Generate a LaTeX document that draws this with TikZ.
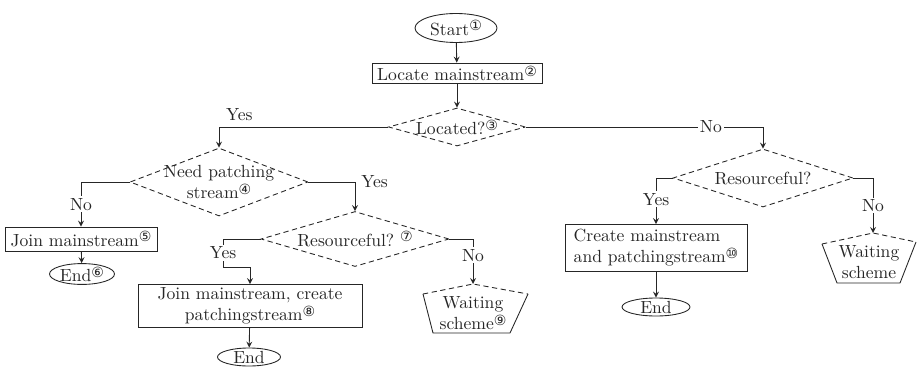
\documentclass[tikz,border=0pt]{standalone}
\usepackage{fontspec}
\newfontfamily\circfont{DejaVu Sans}
\usetikzlibrary{shapes.geometric, arrows}
\newcommand{\cnum}[1]{\raisebox{0.55ex}{\footnotesize\circfont #1}}

\tikzset{
  proc/.style={rectangle, draw, inner sep=1pt},
  term/.style={ellipse, draw, inner sep=0pt},
  dec/.style={diamond, draw, densely dashed, inner sep=0pt},
  flow/.style={->, >=stealth},
  lbl/.style={fill=white, inner sep=1pt}
}

\begin{document}
\begin{tikzpicture}[x=0.02cm, y=-0.02cm, line width=0.5pt, color=black!85]
\useasboundingbox (0,0) rectangle (918,368);

% main column
\node[term, minimum width=1.64cm, minimum height=0.58cm] (start) at (456,28) {Start\cnum{①}};
\node[proc, minimum width=3.4cm, minimum height=0.4cm] (locate) at (457,73) {Locate mainstream\cnum{②}};
\node[dec, minimum width=2.74cm, minimum height=0.76cm, label={center:Located?\cnum{③}}] (located) at (457,127) {};

% left branch
\node[dec, minimum width=3.56cm, minimum height=1.36cm, label={[align=center]center:{Need patching\\stream\cnum{④}}}] (need) at (219,182) {};
\node[proc, minimum width=3.04cm, minimum height=0.48cm] (join) at (81,239) {Join mainstream\cnum{⑤}};
\node[term, minimum width=1.3cm, minimum height=0.38cm] (end1) at (82,274) {End\cnum{⑥}};

\node[dec, minimum width=3.76cm, minimum height=1.1cm, label={center:Resourceful?\ \cnum{⑦}}] (res1) at (355,239) {};
\node[proc, align=center, minimum width=4.48cm, minimum height=0.86cm] (joincreate) at (250,306) {Join mainstream, create\\patchingstream\cnum{⑧}};
\node[term, minimum width=1.26cm, minimum height=0.36cm] (end2) at (249,357) {End};
\coordinate (ybend) at (223,267);

\coordinate (wait1) at (473,284);
\draw[densely dashed] (423,294) -- (wait1) -- (528,294);
\draw (528,294) -- (510,333) -- (433,333) -- (423,294);
\node[align=center] (wait1 text) at (473,313) {Waiting\\scheme\cnum{⑨}};

% right branch
\node[dec, minimum width=3.6cm, minimum height=1.16cm, label={center:Resourceful?}] (res2) at (763,178) {};
\node[proc, align=left, minimum width=3.64cm, minimum height=0.94cm] (create) at (656,248) {Create mainstream\\and patchingstream\cnum{⑩}};
\node[term, minimum width=1.36cm, minimum height=0.36cm] (end3) at (656,307) {End};

\coordinate (wait2) at (873,233);
\draw[densely dashed] (822,244) -- (wait2) -- (916,242);
\draw (916,242) -- (900,283) -- (837,283) -- (822,244);
\node[align=center] (wait2 text) at (869,262) {Waiting\\scheme};

% connectors
\draw[flow] (start) -- (locate);
\draw[flow] (locate) -- (located);
\draw[flow] (located.west) -| node[pos=.44, above] {Yes} (need.north);
\draw[flow] (located.east) -| node[pos=.39, lbl] {No} (res2.north);

\draw[flow] (need.west) -| node[pos=.75, lbl] {No} (join.north);
\draw[flow] (join) -- (end1);
\draw[flow] (need.east) -| node[pos=.5, right] {Yes} (res1.north);
\draw[flow] (res1.west) -| node[pos=.75, lbl] {Yes} (ybend) -| (joincreate.north);
\draw[flow] (joincreate) -- (end2);
\draw[flow] (res1.east) -| node[pos=.68, lbl] {No} (wait1);

\draw[flow] (res2.west) -| node[pos=.73, lbl] {Yes} (create.north);
\draw[flow] (create) -- (end3);
\draw[flow] (res2.east) -| node[pos=.75, lbl] {No} (wait2);

\end{tikzpicture}
\end{document}
